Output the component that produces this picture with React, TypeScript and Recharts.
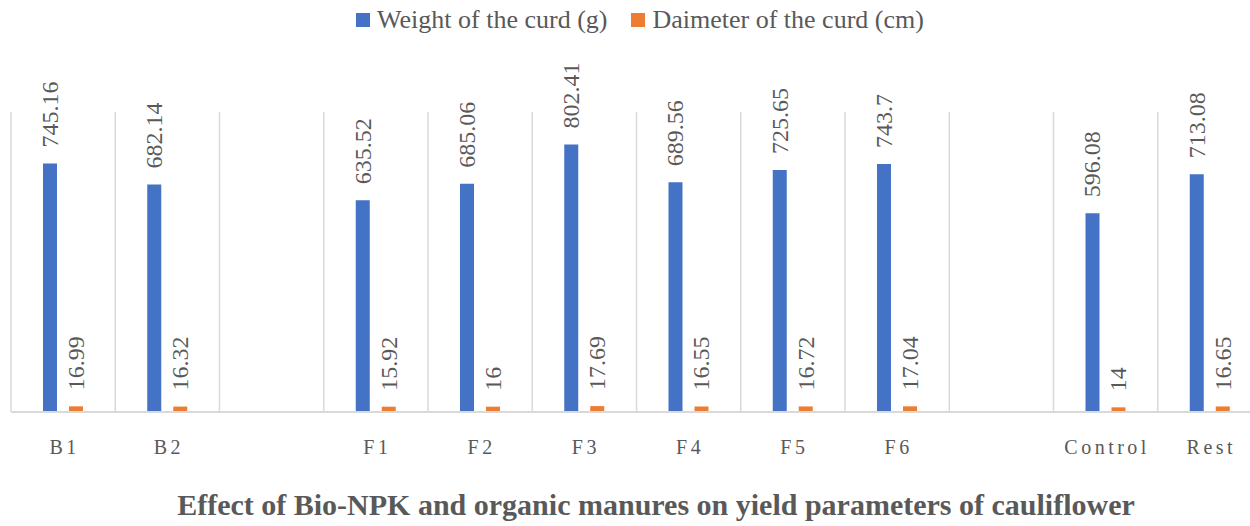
import React from "react";
import { BarChart, Bar, XAxis, YAxis, CartesianGrid, Legend, LabelList } from "recharts";

const categories = ["B1", "B2", "", "F1", "F2", "F3", "F4", "F5", "F6", "", "Control", "Rest"];
const weightValues: (number | null)[] = [745.16, 682.14, null, 635.52, 685.06, 802.41, 689.56, 725.65, 743.7, null, 596.08, 713.08];
const diameterValues: (number | null)[] = [16.99, 16.32, null, 15.92, 16, 17.69, 16.55, 16.72, 17.04, null, 14, 16.65];
const tickLabels = ["B1", "B2", "", "F1", "F2", "F3", "F4", "F5", "F6", "", "Control", "Rest"];

const seriesNames = ["Weight of the curd (g)", "Daimeter of the curd (cm)"];
const colors = ["#4472C4", "#ED7D31"];
const title = "Effect of Bio-NPK and organic manures on yield parameters of cauliflower";

const data = categories.map((c, i) => ({
  key: `c${i}`,
  label: tickLabels[i],
  weight: weightValues[i],
  diameter: diameterValues[i],
}));

const SERIF = "'Liberation Serif', 'Times New Roman', Tinos, serif";
const GRAY = "#595959";

const renderRotatedLabel = (props: any) => {
  const { x, y, width, value } = props;
  if (value === null || value === undefined) return null;
  const cx = Number(x) + Number(width) / 2;
  const ty = Number(y) - 16;
  return (
    <text
      x={cx}
      y={ty}
      transform={`rotate(-90, ${cx}, ${ty})`}
      textAnchor="start"
      dominantBaseline="central"
      fill={GRAY}
      fontFamily={SERIF}
      fontSize={24}
    >
      {String(value)}
    </text>
  );
};

const renderTick = (props: any) => {
  const { x, y, payload } = props;
  const idx = payload.index;
  const lbl = tickLabels[idx] ?? "";
  return (
    <text
      x={Number(x) + 1.5}
      y={Number(y) + 27}
      textAnchor="middle"
      dominantBaseline="central"
      fill={GRAY}
      fontFamily={SERIF}
      fontSize={20}
      letterSpacing={3.5}
    >
      {lbl}
    </text>
  );
};

const renderLegend = () => (
  <div style={{ display: "flex", justifyContent: "center", alignItems: "center", fontFamily: SERIF, color: GRAY, fontSize: 26, lineHeight: "30px" }}>
    {seriesNames.map((n, i) => (
      <div key={n} style={{ display: "flex", alignItems: "center", marginRight: i === 0 ? 24 : 0 }}>
        <span style={{ display: "inline-block", width: 14, height: 14, background: colors[i], marginRight: 7 }} />
        <span>{n}</span>
      </div>
    ))}
  </div>
);

const gridGen = ({ offset }: any) => {
  const n = categories.length;
  return Array.from({ length: n + 1 }, (_, i) => offset.left + (i * offset.width) / n);
};

export default function App() {
  return (
    <div style={{ position: "absolute", left: 0, top: 0, width: 1250, height: 526, overflow: "hidden", background: "#fff" }}>
      <BarChart
        width={1262}
        height={526}
        data={data}
        margin={{ top: 112, right: 0, left: 11, bottom: 74 }}
        barSize={14}
        barGap={12}
      >
        <CartesianGrid horizontal={false} vertical stroke="#D9D9D9" strokeWidth={1.5} verticalCoordinatesGenerator={gridGen} />
        <XAxis
          dataKey="key"
          height={40}
          axisLine={{ stroke: "#D9D9D9", strokeWidth: 2 }}
          tickLine={false}
          interval={0}
          tick={renderTick}
        />
        <YAxis hide domain={[0, 900]} />
        <Legend
          verticalAlign="middle"
          align="center"
          wrapperStyle={{ top: 5, left: 0, width: 1280 }}
          content={renderLegend}
        />
        <Bar dataKey="weight" name={seriesNames[0]} fill={colors[0]} isAnimationActive={false}>
          <LabelList dataKey="weight" content={renderRotatedLabel} />
        </Bar>
        <Bar dataKey="diameter" name={seriesNames[1]} fill={colors[1]} isAnimationActive={false}>
          <LabelList dataKey="diameter" content={renderRotatedLabel} />
        </Bar>
      </BarChart>
      <div
        style={{
          position: "absolute",
          left: 0,
          top: 488,
          width: 1312,
          textAlign: "center",
          fontFamily: SERIF,
          fontWeight: "bold",
          fontSize: 30,
          lineHeight: "34px",
          color: GRAY,
          whiteSpace: "nowrap",
        }}
      >
        {title}
      </div>
    </div>
  );
}
